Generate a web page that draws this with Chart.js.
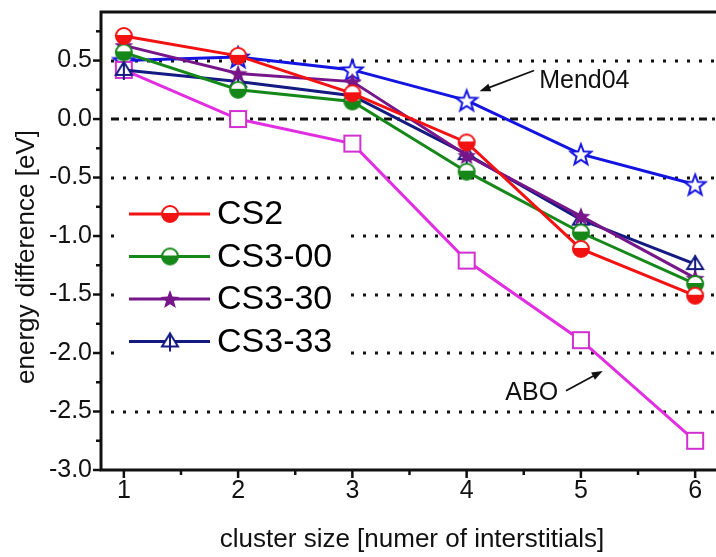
<!DOCTYPE html>
<html>
<head>
<meta charset="utf-8">
<script src="https://cdn.jsdelivr.net/npm/chart.js@4.4.1/dist/chart.umd.min.js"></script>
<style>
html, body { margin: 0; padding: 0; background: #fff; overflow: hidden; }
#wrap { position: relative; width: 730px; height: 557px; }
</style>
</head>
<body>
<div id="wrap"><canvas id="energy"></canvas></div>
<script>
// cluster size (number of interstitials) and energy differences in eV
var clusterSize = [1, 2, 3, 4, 5, 6];
var cs2    = [0.71, 0.54, 0.22, -0.20, -1.11, -1.51];
var cs300  = [0.57, 0.25, 0.15, -0.45, -0.97, -1.41];
var cs330  = [0.63, 0.39, 0.32, -0.31, -0.83, -1.36];
var cs333  = [0.42, 0.32, 0.20, -0.30, -0.86, -1.24];
var mend04 = [0.50, 0.53, 0.42, 0.16, -0.30, -0.56];
var abo    = [0.42, 0.00, -0.21, -1.21, -1.89, -2.75];

var xTicks = [1, 2, 3, 4, 5, 6];
var yTicks = [-3.0, -2.5, -2.0, -1.5, -1.0, -0.5, 0.0, 0.5];
var dottedLevels = [0.5, -0.5, -1.0, -1.5, -2.0, -2.5];
var dashDotLevel = 0.0;

var FONT = '"Liberation Sans", Arial, Helvetica, sans-serif';

// point symbols drawn once on small canvases
function marker(size, draw) {
    var c = document.createElement('canvas');
    c.width = size;
    c.height = size;
    var g = c.getContext('2d');
    draw(g, size / 2);
    return c;
}

function halfCircle(color) {
    return marker(22, function(g, m) {
        var r = 8;
        g.lineWidth = 2;
        g.fillStyle = '#fff';
        g.beginPath(); g.arc(m, m, r, 0, Math.PI * 2); g.fill();
        g.fillStyle = color;
        g.beginPath(); g.arc(m, m, r, 0, Math.PI); g.closePath(); g.fill();
        g.strokeStyle = color;
        g.beginPath(); g.arc(m, m, r, 0, Math.PI * 2); g.stroke();
        g.beginPath(); g.moveTo(m - r, m); g.lineTo(m + r, m); g.stroke();
    });
}

function starPath(g, m, R, r) {
    g.beginPath();
    for (var i = 0; i < 10; i++) {
        var a = -Math.PI / 2 + i * Math.PI / 5;
        var rad = i % 2 ? r : R;
        g.lineTo(m + rad * Math.cos(a), m + 1 + rad * Math.sin(a));
    }
    g.closePath();
}

function filledStar(color) {
    return marker(24, function(g, m) {
        starPath(g, m, 10, 4.2);
        g.fillStyle = color;
        g.fill();
    });
}

function openStar(color) {
    return marker(26, function(g, m) {
        starPath(g, m, 11, 4.6);
        g.fillStyle = '#fff';
        g.fill();
        g.lineWidth = 2;
        g.strokeStyle = color;
        g.stroke();
    });
}

function crossedTriangle(color) {
    return marker(24, function(g, m) {
        g.lineWidth = 2;
        g.strokeStyle = color;
        g.fillStyle = '#fff';
        g.beginPath();
        g.moveTo(m, m - 8);
        g.lineTo(m + 8, m + 5);
        g.lineTo(m - 8, m + 5);
        g.closePath();
        g.fill();
        g.stroke();
        g.beginPath(); g.moveTo(m, m - 9); g.lineTo(m, m + 10); g.stroke();
    });
}

function openSquare(color) {
    return marker(22, function(g, m) {
        g.lineWidth = 2;
        g.fillStyle = '#fff';
        g.fillRect(m - 8, m - 8, 16, 16);
        g.strokeStyle = color;
        g.strokeRect(m - 8, m - 8, 16, 16);
    });
}

function series(label, values, color, style) {
    return {
        label: label,
        data: clusterSize.map(function(x, i) { return { x: x, y: values[i] }; }),
        borderColor: color,
        backgroundColor: color,
        borderWidth: 3,
        pointStyle: style,
        pointRadius: 9,
        pointHoverRadius: 9,
        tension: 0
    };
}

var datasets = [
    series('CS2', cs2, '#f21212', halfCircle('#f21212')),
    series('CS3-00', cs300, '#16881a', halfCircle('#16881a')),
    series('CS3-30', cs330, '#76168a', filledStar('#76168a')),
    series('CS3-33', cs333, '#141a82', crossedTriangle('#141a82')),
    series('ABO', abo, '#e02ee0', openSquare('#d030d0')),
    series('Mend04', mend04, '#1414e0', openStar('#1414e0'))
];

function arrow(ctx, x1, y1, x2, y2) {
    var a = Math.atan2(y2 - y1, x2 - x1);
    ctx.lineWidth = 1.8;
    ctx.beginPath();
    ctx.moveTo(x1, y1);
    ctx.lineTo(x2 - 8 * Math.cos(a), y2 - 8 * Math.sin(a));
    ctx.stroke();
    ctx.beginPath();
    ctx.moveTo(x2, y2);
    ctx.lineTo(x2 - 11 * Math.cos(a) + 4 * Math.sin(a), y2 - 11 * Math.sin(a) - 4 * Math.cos(a));
    ctx.lineTo(x2 - 11 * Math.cos(a) - 4 * Math.sin(a), y2 - 11 * Math.sin(a) + 4 * Math.cos(a));
    ctx.closePath();
    ctx.fill();
}

var framePlugin = {
    id: 'frame',
    beforeDatasetsDraw: function(chart) {
        var ctx = chart.ctx, a = chart.chartArea, y = chart.scales.y;
        ctx.save();
        ctx.strokeStyle = '#111';
        ctx.lineWidth = 3;
        ctx.setLineDash([3, 9]);
        dottedLevels.forEach(function(v) {
            var py = Math.round(y.getPixelForValue(v));
            ctx.beginPath();
            ctx.moveTo(a.left + 10, py);
            ctx.lineTo(a.right, py);
            ctx.stroke();
        });
        ctx.setLineDash([8, 5, 3, 5]);
        var p0 = Math.round(y.getPixelForValue(dashDotLevel));
        ctx.beginPath();
        ctx.moveTo(a.left + 10, p0);
        ctx.lineTo(a.right, p0);
        ctx.stroke();
        ctx.restore();
    },
    afterDatasetsDraw: function(chart) {
        var ctx = chart.ctx, a = chart.chartArea;
        var xs = chart.scales.x, ys = chart.scales.y;
        ctx.save();

        // legend box inside the plot
        ctx.fillStyle = '#fff';
        ctx.fillRect(a.left + 17, a.top + 180, 232, 172);
        chart.data.datasets.slice(0, 4).forEach(function(ds, i) {
            var ry = a.top + 202 + 42.5 * i;
            ctx.strokeStyle = ds.borderColor;
            ctx.lineWidth = 3;
            ctx.beginPath();
            ctx.moveTo(a.left + 28, ry);
            ctx.lineTo(a.left + 109, ry);
            ctx.stroke();
            var img = ds.pointStyle;
            ctx.drawImage(img, a.left + 69 - img.width / 2, ry - img.height / 2);
            ctx.fillStyle = '#000';
            ctx.font = '34px ' + FONT;
            ctx.textBaseline = 'middle';
            ctx.textAlign = 'left';
            ctx.fillText(ds.label, a.left + 116, ry + 1);
        });

        // annotations
        ctx.fillStyle = '#111';
        ctx.strokeStyle = '#111';
        ctx.font = '25px ' + FONT;
        ctx.textBaseline = 'middle';
        ctx.fillText('Mend04', xs.getPixelForValue(4.635), ys.getPixelForValue(0.322));
        arrow(ctx, xs.getPixelForValue(4.59), ys.getPixelForValue(0.415),
                   xs.getPixelForValue(4.113), ys.getPixelForValue(0.237));
        ctx.fillText('ABO', xs.getPixelForValue(4.339), ys.getPixelForValue(-2.339));
        arrow(ctx, xs.getPixelForValue(4.87), ys.getPixelForValue(-2.322),
                   xs.getPixelForValue(5.191), ys.getPixelForValue(-2.153));

        // axes frame and tick marks
        ctx.strokeStyle = '#111';
        ctx.lineWidth = 3;
        ctx.setLineDash([]);
        ctx.beginPath();
        ctx.moveTo(a.right + 5, a.top);
        ctx.lineTo(a.left, a.top);
        ctx.lineTo(a.left, a.bottom);
        ctx.lineTo(a.right + 5, a.bottom);
        ctx.stroke();

        ctx.lineWidth = 2.5;
        yTicks.forEach(function(v) {
            var py = ys.getPixelForValue(v);
            ctx.beginPath(); ctx.moveTo(a.left, py); ctx.lineTo(a.left - 8, py); ctx.stroke();
            var m = v + 0.25;
            if (m <= ys.max) {
                var pm = ys.getPixelForValue(m);
                ctx.beginPath(); ctx.moveTo(a.left, pm); ctx.lineTo(a.left - 5, pm); ctx.stroke();
            }
        });
        xTicks.forEach(function(v) {
            var px = xs.getPixelForValue(v);
            ctx.beginPath(); ctx.moveTo(px, a.bottom); ctx.lineTo(px, a.bottom + 8); ctx.stroke();
            var m = v + 0.5;
            if (m <= xs.max) {
                var pm = xs.getPixelForValue(m);
                ctx.beginPath(); ctx.moveTo(pm, a.bottom); ctx.lineTo(pm, a.bottom + 5); ctx.stroke();
            }
        });

        // axis titles
        ctx.fillStyle = '#111';
        ctx.font = '26px ' + FONT;
        ctx.textAlign = 'center';
        ctx.textBaseline = 'middle';
        ctx.fillText('cluster size [numer of interstitials]', 412, 540);
        ctx.translate(27, 257);
        ctx.rotate(-Math.PI / 2);
        ctx.fillText('energy difference [eV]', 0, 0);
        ctx.restore();
    }
};

var chart = new Chart(document.getElementById('energy'), {
    type: 'line',
    data: { datasets: datasets },
    plugins: [framePlugin],
    options: {
        responsive: true,
        maintainAspectRatio: false,
        animation: false,
        layout: { padding: { top: 8, right: 8, left: 0, bottom: 0 } },
        plugins: { legend: { display: false }, tooltip: { enabled: false } },
        scales: {
            x: {
                type: 'linear',
                min: 0.8,
                max: 6.2,
                afterBuildTicks: function(scale) {
                    scale.ticks = xTicks.map(function(v) { return { value: v }; });
                },
                afterFit: function(scale) {
                    scale.height = 87;
                    scale.paddingLeft = 0;
                    scale.paddingRight = 0;
                },
                grid: { display: false, drawTicks: false },
                border: { display: false },
                ticks: {
                    padding: 6,
                    color: '#111',
                    maxRotation: 0,
                    font: { family: FONT, size: 25 },
                    callback: function(v) { return String(v); }
                }
            },
            y: {
                min: -3.0,
                max: 0.915,
                afterBuildTicks: function(scale) {
                    scale.ticks = yTicks.map(function(v) { return { value: v }; });
                },
                afterFit: function(scale) {
                    scale.width = 101;
                    scale.paddingTop = 0;
                    scale.paddingBottom = 0;
                },
                grid: { display: false, drawTicks: false },
                border: { display: false },
                ticks: {
                    padding: 9,
                    color: '#111',
                    font: { family: FONT, size: 25 },
                    callback: function(v) { return v.toFixed(1); }
                }
            }
        }
    }
});
</script>
</body>
</html>
